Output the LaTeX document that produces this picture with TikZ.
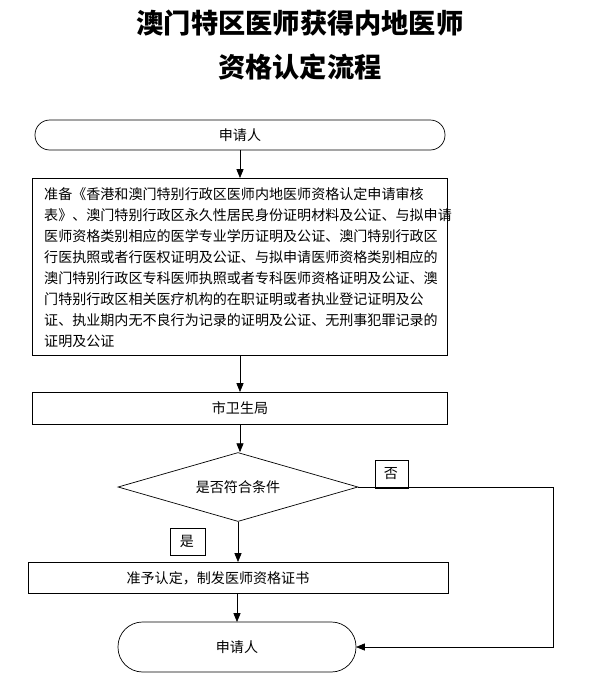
\documentclass[tikz,border=0pt]{standalone}
\usepackage{fontspec}
\setmainfont{Noto Sans CJK SC}
\usetikzlibrary{arrows.meta,shapes.geometric}
\begin{document}
\begin{tikzpicture}[x=0.02cm,y=-0.02cm,
  box/.style={draw,thin,inner sep=0pt},
  arr/.style={draw,thin,-{Triangle[length=5pt,width=4pt]}},
  txt/.style={font=\fontsize{8pt}{10pt}\selectfont}]
\useasboundingbox (0,0) rectangle (600,687);
\node[font=\fontsize{15.5pt}{20pt}\selectfont\bfseries,align=center] (title) at (300,45) {澳门特区医师获得内地医师\\[5pt]资格认定流程};
\draw[rounded corners=8.4pt] (35,120) rectangle (445,150);
\node[txt] (s) at (240,135) {申请人};
\coordinate (sb) at (240,150);
\node[box,minimum width=415*0.02cm,minimum height=177*0.02cm,anchor=north west] (b1) at (32,178) {};
\node[txt,anchor=north west,align=left,font=\fontsize{8pt}{12pt}\selectfont] (t1) at (38,181) {准备《香港和澳门特别行政区医师内地医师资格认定申请审核\\表》、澳门特别行政区永久性居民身份证明材料及公证、与拟申请\\医师资格类别相应的医学专业学历证明及公证、澳门特别行政区\\行医执照或者行医权证明及公证、与拟申请医师资格类别相应的\\澳门特别行政区专科医师执照或者专科医师资格证明及公证、澳\\门特别行政区相关医疗机构的在职证明或者执业登记证明及公\\证、执业期内无不良行为记录的证明及公证、无刑事犯罪记录的\\证明及公证};
\node[box,txt,minimum width=415*0.02cm,minimum height=32*0.02cm,anchor=north west] (b2) at (32,392) {};
\node[txt] at (240,408) {市卫生局};
\node[draw,thin,diamond,aspect=3.45,minimum width=240*0.02cm,minimum height=69*0.02cm,inner sep=0pt] (d) at (238,487) {};
\node[txt] at (238,487) {是否符合条件};
\node[box,txt,minimum width=33*0.02cm,minimum height=28*0.02cm,anchor=north west] (no) at (375,460) {};
\node[txt] at (391,474) {否};
\node[box,txt,minimum width=35*0.02cm,minimum height=27*0.02cm,anchor=north west] (yes) at (170,528) {};
\node[txt] at (187,541) {是};
\node[box,minimum width=420*0.02cm,minimum height=31*0.02cm,anchor=north west] (b3) at (28,562) {};
\node[txt] at (218,578) {准予认定，制发医师资格证书};
\draw[rounded corners=14pt] (118,622) rectangle (356,672);
\node[txt] (e) at (237,647) {申请人};
\coordinate (et) at (237,622);
\coordinate (er) at (356,647);
\draw[arr] (sb) -- (b1.north -| sb);
\draw[arr] (b1.south -| sb) -- (b2.north -| sb);
\draw[arr] (b2.south -| sb) -- (d.north -| sb);
\draw[arr] (d.south) -- (b3.north -| d.south);
\draw[arr] (b3.south -| et) -- (et);
\coordinate (c1) at (553,487);
\coordinate (c2) at (553,647);
\draw[arr] (d.east) -- (c1) -- (c2) -- (er);
\end{tikzpicture}
\end{document}
